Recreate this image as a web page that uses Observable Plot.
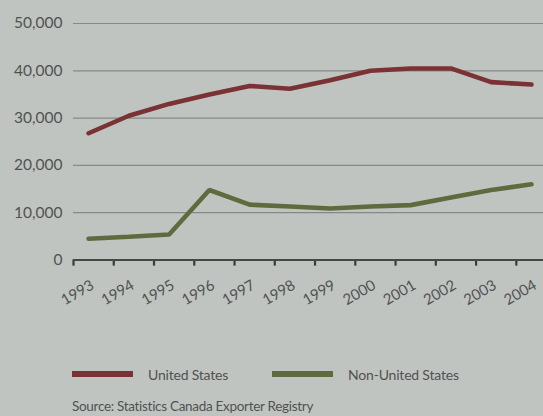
<!DOCTYPE html>
<html>
<head>
<meta charset="utf-8">
<script src="https://cdn.jsdelivr.net/npm/d3@7"></script>
<script src="https://cdn.jsdelivr.net/npm/@observablehq/plot@0.6"></script>
<style>
  html, body { margin: 0; padding: 0; background: #c0c4c1; width: 543px; height: 416px; overflow: hidden; }
  body { font-family: Lato, "Open Sans", sans-serif; color: #505251; }
  #chart svg { display: block; }
  .legend { height: 38px; display: flex; align-items: center; padding-left: 72px; font-size: 14px; letter-spacing: -0.2px; }
  .item { display: flex; align-items: center; }
  .sw { width: 61px; height: 6px; margin-right: 15px; }
  .source { padding-left: 72px; font-size: 13.5px; letter-spacing: -0.3px; line-height: 27px; }
</style>
</head>
<body>
<div id="chart"></div>
<div class="legend">
  <div class="item" style="margin-right:44px"><div class="sw" style="background:#7a3234"></div><span>United States</span></div>
  <div class="item"><div class="sw" style="background:#5e6b3e"></div><span>Non-United States</span></div>
</div>
<div class="source">Source: Statistics Canada Exporter Registry</div>
<script>
const years = [1993, 1994, 1995, 1996, 1997, 1998, 1999, 2000, 2001, 2002, 2003, 2004];
const unitedStates = [26800, 30500, 33000, 35000, 36800, 36200, 38000, 40000, 40500, 40500, 37600, 37100];
const nonUnitedStates = [4500, 4900, 5400, 14800, 11700, 11300, 10900, 11300, 11600, 13200, 14800, 16000];
const yTicks = [0, 10000, 20000, 30000, 40000, 50000];
const seriesNames = ["United States", "Non-United States"];
const seriesColors = ["#7a3234", "#5e6b3e"];

const rows = [];
years.forEach((yr, i) => {
  rows.push({year: yr, value: unitedStates[i], series: seriesNames[0]});
  rows.push({year: yr, value: nonUnitedStates[i], series: seriesNames[1]});
});
const tickRows = years.map(y => ({pos: y - 0.375, top: 0, bottom: -1300}));

const chart = Plot.plot({
  width: 543,
  height: 355,
  marginTop: 23,
  marginBottom: 95.5,
  marginLeft: 73,
  marginRight: 0,
  style: {background: "#c0c4c1", fontFamily: "Lato, 'Open Sans', sans-serif", color: "#505251", overflow: "visible"},
  x: {domain: [1992.625, 2004.3]},
  y: {domain: [0, 50000]},
  color: {domain: seriesNames, range: seriesColors},
  marks: [
    Plot.ruleY(yTicks.filter(d => d > 0), {stroke: "#858987", strokeWidth: 1.2}),
    Plot.axisY({ticks: yTicks, label: null, tickSize: 0, tickPadding: 11, tickFormat: d3.format(","), fontSize: 15.5, style: {letterSpacing: "-1px"}}),
    Plot.lineY(rows, {x: "year", y: "value", z: "series", stroke: "series", strokeWidth: 4.6, strokeLinejoin: "miter"}),
    Plot.ruleX(tickRows, {x: "pos", y1: "top", y2: "bottom", stroke: "#3a3c3b", strokeWidth: 2.2}),
    Plot.ruleY([0], {stroke: "#454746", strokeWidth: 2}),
    Plot.axisX(years, {label: null, tickSize: 0, tickPadding: 24, tickRotate: -30, tickFormat: d => String(d), fontSize: 15, dx: 4, style: {letterSpacing: "-0.8px"}})
  ]
});
document.getElementById("chart").appendChild(chart);
</script>
</body>
</html>
